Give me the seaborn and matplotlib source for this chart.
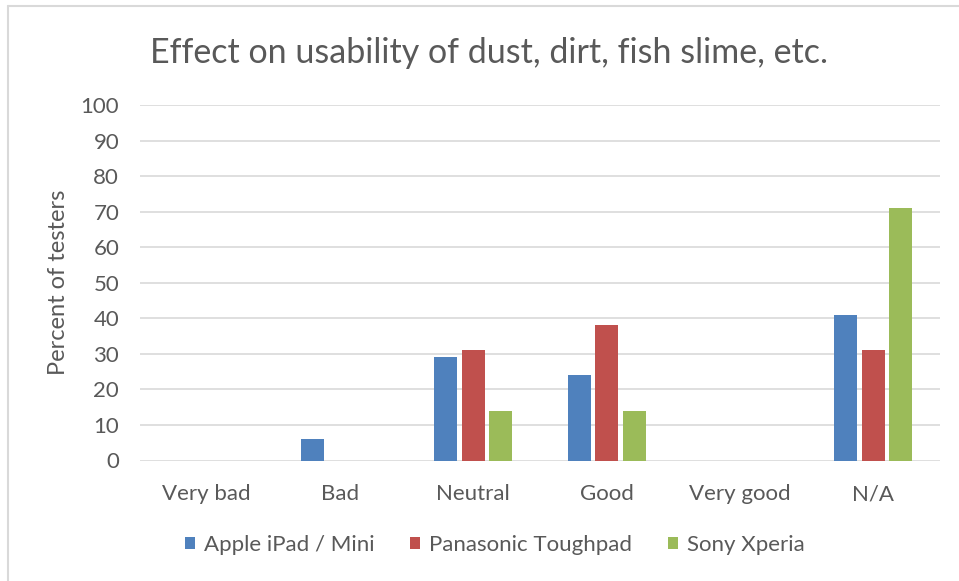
import numpy as np
import pandas as pd
import seaborn as sns
from matplotlib import pyplot as plt
from matplotlib.lines import Line2D


ratings = ['Very bad', 'Bad', 'Neutral', 'Good', 'Very good', 'N/A']
devices = ['Apple iPad / Mini', 'Panasonic Toughpad', 'Sony Xperia']
apple = [0, 6, 29, 24, 0, 41]
panasonic = [0, 0, 31, 38, 0, 31]
sony = [0, 0, 14, 14, 0, 71]
colors = ['#4F81BD', '#C0504D', '#9BBB59']

rows = []
for dev, vals in zip(devices, [apple, panasonic, sony]):
    for r, v in zip(ratings, vals):
        rows.append({'rating': r, 'device': dev, 'percent': v})
df = pd.DataFrame(rows)

sns.set_style('white')
plt.rcParams['font.family'] = ['Lato', 'DejaVu Sans']
txt = '#595959'

fig = plt.figure(figsize=(9.59, 5.81), dpi=100)
ax = fig.add_axes([140 / 959, 1 - 460.5 / 581, 800 / 959, 355.5 / 581])

sns.barplot(data=df, x='rating', y='percent', hue='device', order=ratings,
            hue_order=devices, palette=colors, saturation=1, width=0.62,
            gap=0.16, edgecolor='none', linewidth=0, ax=ax, zorder=3)

ax.set_ylim(0, 100)
ax.set_yticks(np.arange(0, 101, 10))
ax.grid(axis='y', color='#D9D9D9', linewidth=1.2, zorder=0)
ax.set_axisbelow(True)
sns.despine(ax=ax, left=True, bottom=True)
ax.tick_params(length=0, labelsize=16, labelcolor=txt)
ax.tick_params(axis='x', pad=17)
ax.tick_params(axis='y', pad=15)
ax.set_xlabel('')
ax.set_ylabel('Percent of testers', fontsize=17, color=txt, labelpad=8)

sns.move_legend(ax, 'center', bbox_to_anchor=(495 / 959, 1 - 545 / 581),
                bbox_transform=fig.transFigure, ncol=3, frameon=False,
                title=None, fontsize=16, handlelength=0.45, handleheight=0.45,
                handletextpad=0.4, columnspacing=1.6)
for t in ax.get_legend().get_texts():
    t.set_color(txt)

fig.text(489 / 959, 1 - 63 / 581, 'Effect on usability of dust, dirt, fish slime, etc.',
         ha='center', va='baseline', fontsize=24.5, color=txt)

# light frame of the chart area (cropped screenshot: only top and left show)
fig.add_artist(Line2D([8 / 959, 1], [1 - 6 / 581, 1 - 6 / 581], color='#D9D9D9', lw=1.5))
fig.add_artist(Line2D([8 / 959, 8 / 959], [0, 1 - 6 / 581], color='#D9D9D9', lw=1.5))

fig.savefig('out.png', dpi=100)
